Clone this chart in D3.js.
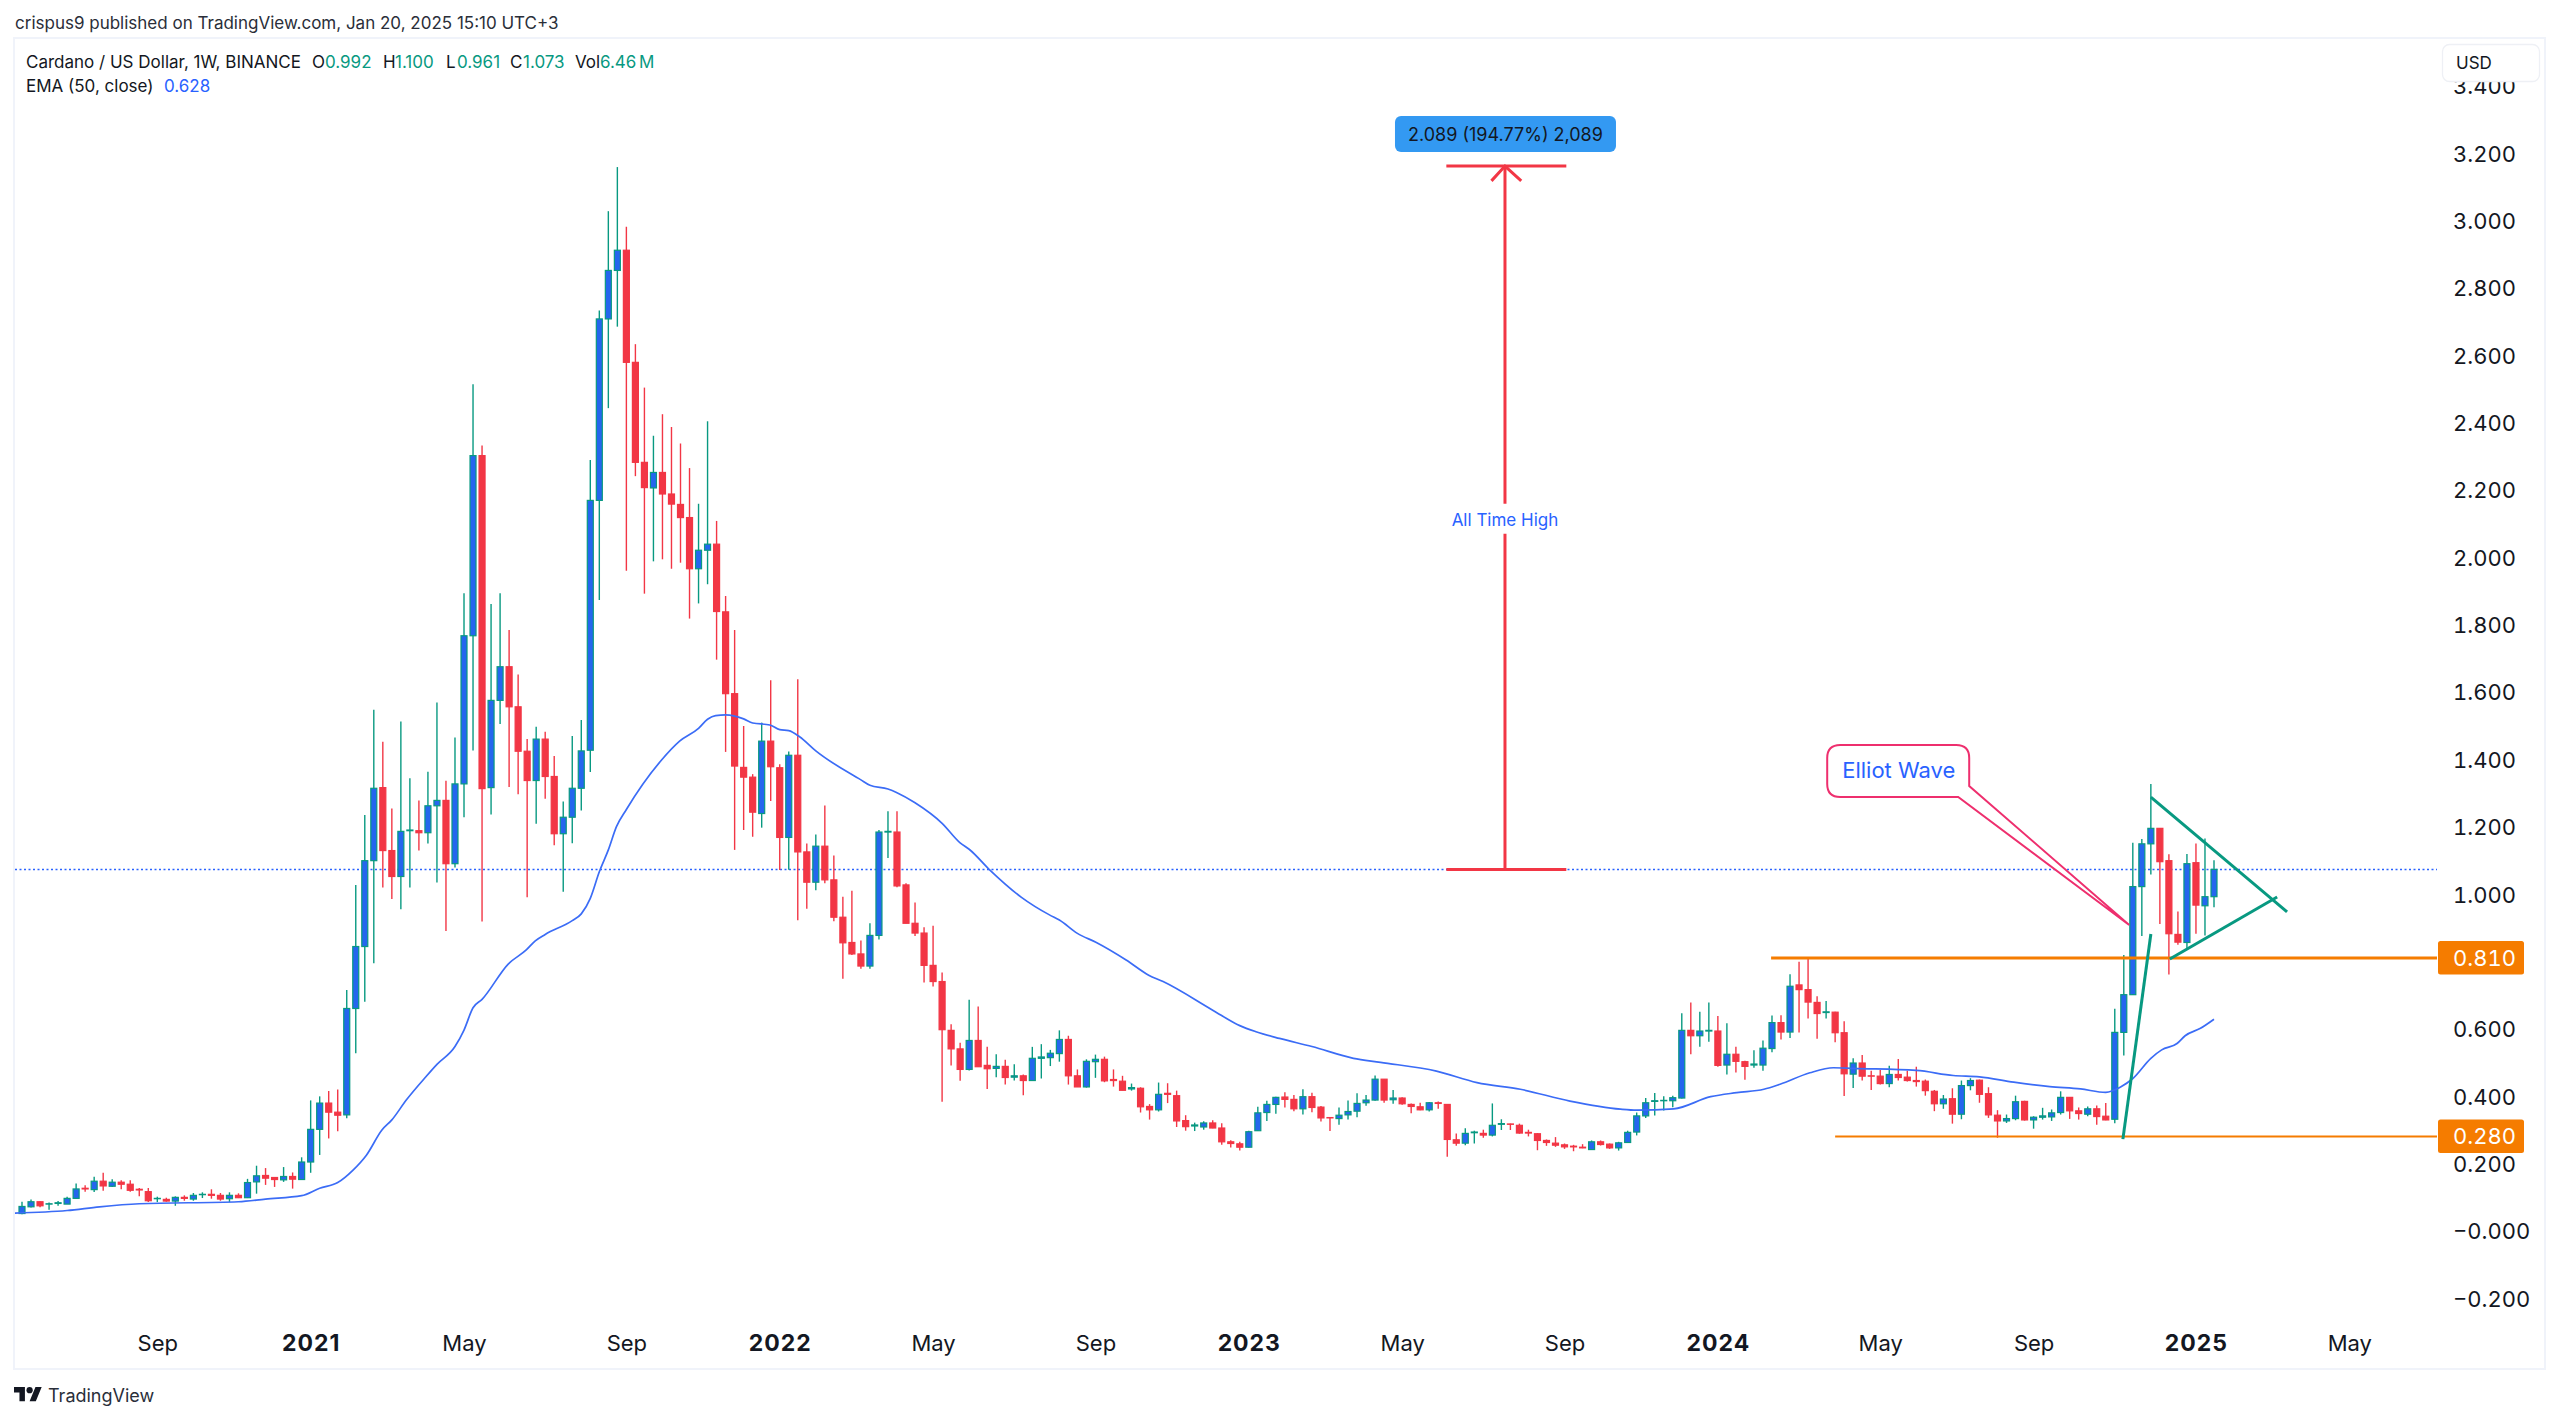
<!DOCTYPE html>
<html>
<head>
<meta charset="utf-8">
<style>
html,body{margin:0;padding:0;background:#fff;}
svg{display:block;font-family:Inter,"Noto Sans",sans-serif;}
.tnum{font-variant-numeric:tabular-nums;font-feature-settings:"tnum" 1;}
</style>
<script src="https://cdn.jsdelivr.net/npm/d3@7/dist/d3.min.js"></script>
</head>
<body>
<svg id="chart" width="2560" height="1420"></svg>
<script>
// ---- candles: weekly bars, index 0 = week of 2020-05-25 ----
const opens = [
.051,.071,.086,.079,.081,.079,.096,.126,.122,.147,
.132,.144,.138,.123,.116,.095,.093,.088,.099,.094,
.107,.108,.105,.095,.105,.098,.145,.164,.158,.151,
.161,.152,.204,.301,.379,.352,.344,.660,.844,1.099,
1.316,1.129,1.052,1.188,1.188,1.182,1.262,1.278,1.090,1.327,
1.767,2.302,1.316,1.575,1.675,1.556,1.424,1.337,1.460,1.349,
1.179,1.228,1.314,1.427,2.169,2.708,2.852,2.912,2.579,2.282,
2.206,2.252,2.188,2.157,2.118,1.966,2.021,2.039,1.838,1.595,
1.376,1.347,1.239,1.454,1.375,1.168,1.412,1.125,1.035,1.142,
1.042,.931,.856,.822,.786,.877,1.184,1.184,1.027,.913,
.884,.788,.740,.595,.540,.479,.565,.491,.482,.488,
.456,.460,.446,.512,.514,.526,.568,.460,.427,.502,
.509,.449,.444,.421,.423,.369,.359,.408,.401,.327,
.311,.308,.320,.305,.264,.258,.248,.297,.351,.375,
.397,.390,.362,.398,.367,.336,.333,.344,.355,.380,
.388,.450,.389,.394,.375,.368,.359,.380,.375,.270,
.260,.291,.289,.284,.316,.317,.313,.292,.288,.268,
.260,.255,.251,.248,.241,.264,.257,.246,.262,.293,
.341,.384,.386,.386,.394,.595,.579,.593,.593,.492,
.524,.502,.492,.492,.541,.618,.590,.730,.716,.678,
.648,.649,.588,.465,.498,.460,.459,.437,.464,.456,
.446,.444,.414,.377,.392,.346,.431,.447,.407,.343,
.326,.333,.384,.329,.337,.338,.351,.396,.356,.346,
.362,.340,.331,.589,.701,1.022,1.149,1.195,1.099,.880,
.856,1.093,.965,.992];
const highs = [
.086,.093,.087,.084,.088,.101,.140,.135,.160,.172,
.153,.150,.150,.127,.127,.101,.098,.102,.105,.112,
.114,.123,.112,.114,.111,.154,.193,.186,.159,.189,
.173,.218,.387,.399,.415,.419,.715,1.027,1.235,1.547,
1.452,1.254,1.512,1.344,1.278,1.363,1.569,1.336,1.465,1.893,
2.514,2.332,1.861,1.893,1.784,1.652,1.460,1.497,1.482,1.410,
1.275,1.469,1.517,2.289,2.733,3.028,3.159,2.982,2.633,2.504,
2.361,2.425,2.387,2.338,2.265,2.159,2.404,2.108,1.885,1.784,
1.499,1.356,1.509,1.635,1.385,1.423,1.638,1.150,1.177,1.263,
1.114,.992,1.010,.862,.913,1.190,1.246,1.246,1.032,.975,
.901,.906,.767,.613,.558,.686,.666,.546,.524,.508,
.494,.464,.546,.554,.537,.595,.579,.479,.509,.523,
.517,.479,.460,.437,.426,.376,.440,.438,.416,.343,
.321,.325,.328,.319,.269,.264,.297,.368,.386,.398,
.411,.403,.420,.410,.370,.337,.366,.387,.408,.403,
.461,.450,.418,.396,.378,.380,.382,.384,.376,.289,
.304,.297,.300,.378,.331,.318,.318,.300,.290,.271,
.278,.259,.255,.257,.268,.268,.259,.264,.297,.351,
.394,.409,.399,.401,.646,.678,.650,.678,.638,.616,
.546,.505,.536,.565,.639,.640,.762,.799,.809,.696,
.682,.650,.622,.512,.522,.475,.477,.490,.510,.475,
.487,.449,.418,.403,.423,.446,.453,.449,.426,.358,
.345,.401,.386,.340,.365,.360,.414,.397,.366,.369,
.372,.379,.659,.819,1.152,1.163,1.327,1.195,1.118,.948,
1.119,1.150,1.165,1.100];
const lows = [
.049,.069,.070,.062,.074,.079,.094,.116,.115,.119,
.130,.123,.116,.102,.085,.085,.086,.074,.089,.089,
.097,.095,.089,.085,.097,.097,.110,.136,.130,.145,
.125,.151,.172,.225,.274,.295,.334,.527,.680,.794,
1.019,.985,.955,1.019,1.129,1.150,1.034,.890,1.079,1.228,
1.426,.918,1.236,1.505,1.318,1.296,.990,1.209,1.283,1.145,
1.007,1.151,1.248,1.362,1.873,2.443,2.685,1.960,2.241,1.892,
1.988,1.994,1.966,1.984,1.818,1.863,1.920,1.696,1.422,1.131,
1.190,1.170,1.197,1.276,1.071,1.072,.922,.956,1.011,1.032,
.919,.748,.819,.778,.778,.865,1.107,1.020,.913,.875,
.737,.725,.383,.491,.445,.476,.487,.421,.456,.434,
.446,.402,.446,.452,.489,.502,.434,.427,.425,.454,
.441,.428,.417,.416,.351,.330,.354,.379,.308,.297,
.296,.300,.304,.255,.247,.238,.247,.296,.326,.347,
.366,.355,.345,.352,.324,.296,.315,.330,.337,.371,
.386,.380,.377,.374,.349,.358,.354,.362,.220,.252,
.254,.259,.276,.280,.299,.299,.288,.280,.239,.252,
.249,.243,.236,.245,.241,.253,.243,.238,.262,.283,
.335,.342,.357,.367,.393,.524,.546,.561,.487,.464,
.470,.448,.484,.475,.530,.568,.572,.589,.630,.570,
.630,.560,.400,.424,.446,.418,.434,.426,.446,.443,
.428,.401,.355,.362,.318,.331,.417,.380,.335,.276,
.320,.328,.327,.303,.330,.326,.345,.332,.330,.340,
.315,.328,.319,.520,.701,.875,1.058,.911,.761,.849,
.839,.882,.877,.961];
const closes = [
.072,.086,.074,.080,.083,.096,.124,.124,.147,.133,
.144,.138,.120,.121,.089,.096,.088,.099,.096,.105,
.108,.105,.094,.105,.098,.143,.163,.156,.152,.161,
.153,.204,.301,.379,.352,.343,.660,.844,1.099,1.314,
1.129,1.052,1.186,1.190,1.182,1.262,1.278,1.090,1.327,1.767,
2.302,1.313,1.575,1.675,1.556,1.424,1.337,1.460,1.349,1.179,
1.228,1.314,1.425,2.169,2.708,2.852,2.912,2.579,2.282,2.207,
2.252,2.188,2.158,2.118,1.966,2.021,2.039,1.839,1.595,1.380,
1.347,1.243,1.454,1.378,1.168,1.412,1.125,1.035,1.142,1.042,
.931,.855,.822,.786,.877,1.184,1.186,1.024,.913,.884,
.788,.740,.597,.540,.479,.565,.487,.481,.488,.455,
.460,.446,.512,.516,.527,.568,.460,.427,.503,.509,
.445,.446,.417,.425,.368,.359,.405,.405,.326,.309,
.314,.320,.305,.264,.259,.248,.294,.350,.375,.396,
.390,.362,.398,.366,.335,.335,.343,.354,.378,.388,
.450,.388,.394,.377,.369,.359,.380,.378,.271,.260,
.289,.293,.284,.313,.318,.316,.290,.290,.268,.262,
.254,.249,.249,.246,.264,.256,.246,.261,.292,.341,
.380,.386,.387,.395,.595,.579,.593,.595,.491,.524,
.503,.488,.495,.542,.618,.590,.726,.716,.679,.645,
.650,.588,.466,.498,.459,.459,.437,.464,.455,.446,
.443,.416,.377,.391,.346,.431,.446,.405,.344,.326,
.333,.383,.329,.337,.341,.350,.396,.356,.348,.362,
.339,.329,.589,.701,1.022,1.149,1.195,1.096,.882,.857,
1.090,.967,.992,1.073];

// ---- EMA(50): weeks and values ----
const emaWeeks = [-1,5,8.6,13,24,27,31,33,35,36.7,38.2,39.9,41,42.6,44.8,46,48,49,50,51,53.9,55.9,56.9,58,61,62,63,64,65,65.9,67,70.9,72.9,75,76,76.9,78,80,81,82.9,84,85,86.2,88,93,94,96,97,99,102,104,105,107.3,110.8,113.9,115,117,119.1,122.4,124.9,126.5,132,135,136.8,139.4,143,147.6,150.6,156.8,161.3,166.1,171.6,177.2,179,183.1,187.2,190.1,193.1,194.9,198.2,200.8,203,210,214.1,217,220.8,224.8,228.2,231,232.6,234,236,237.2,238.9,239.8,241.5,243];
const emaValues = [.052,.060,.071,.080,.086,.094,.104,.126,.143,.180,.225,.299,.329,.388,.458,.494,.547,.596,.662,.687,.792,.834,.861,.880,.921,.941,.987,1.066,1.131,1.200,1.251,1.398,1.454,1.492,1.519,1.530,1.532,1.520,1.508,1.502,1.488,1.485,1.467,1.425,1.339,1.323,1.312,1.301,1.271,1.210,1.152,1.133,1.071,.990,.938,.923,.883,.856,.804,.759,.740,.655,.609,.591,.571,.547,.512,.500,.474,.440,.420,.385,.361,.358,.362,.398,.410,.420,.435,.469,.484,.482,.476,.461,.457,.441,.428,.421,.411,.426,.452,.512,.537,.556,.579,.601,.628];

// ---- axes ----
const priceTicks = [3.4,3.2,3.0,2.8,2.6,2.4,2.2,2.0,1.8,1.6,1.4,1.2,1.0,0.6,0.4,0.2,0,-0.2];
const tickWeeks = [15,32,49,67,84,101,119,136,153,171,188,206,223,241,258];
const tickLabels = ["Sep","2021","May","Sep","2022","May","Sep","2023","May","Sep","2024","May","Sep","2025","May"];

// ---- drawings (week index, price) ----
const lastClose = 1.073;
const levelPrices = [0.810, 0.280];
const levelStartWeeks = [193.9, 201];
const levelWidths = [3, 2];
const trendFromWeek = [232.9, 236, 238.1];
const trendFromPrice = [0.272, 1.288, 0.807];
const trendToWeek = [236, 251.1, 250];
const trendToPrice = [0.881, 0.947, 0.991];
const measureWeek = 164.4, measureTop = 3.162, measureBottom = 1.073;
const measureCapWeeks = [157.9, 171.2];
const arrowWeeks = [162.9, 166.2], arrowPrice = 3.118;
const calloutTipWeek = 233.6, calloutTipPrice = 0.908;

const BLUE="#2962ff", GREEN="#089981", RED="#f23645", ORANGE="#f57c00", PINK="#ee2f6e", INK="#131722", FILLUP="#2566ee";

const x = d3.scaleLinear().domain([0,243]).range([22,2214]);
const y = d3.scaleLinear().domain([1,0]).range([894,1230.7]);
const plotRight = 2437, plotLeft = 15, plotTop = 39, plotBottom = 1368;

const svg = d3.select("#chart");
svg.append("rect").attr("width",2560).attr("height",1420).attr("fill","#fff");
svg.append("defs").append("clipPath").attr("id","plot").append("rect")
  .attr("x",plotLeft).attr("y",plotTop).attr("width",plotRight-plotLeft).attr("height",plotBottom-plotTop);

// frame
svg.append("rect").attr("x",14).attr("y",38).attr("width",2531).attr("height",1331)
  .attr("fill","none").attr("stroke","#f0f3fa").attr("stroke-width",2);

// header
svg.append("text").attr("x",15).attr("y",29).attr("font-size",17).attr("fill","#2a2e39")
  .text("crispus9 published on TradingView.com, Jan 20, 2025 15:10 UTC+3");

const plot = svg.append("g").attr("clip-path","url(#plot)");

// last close dotted line
plot.append("line").attr("x1",plotLeft).attr("x2",plotRight).attr("y1",y(lastClose)).attr("y2",y(lastClose))
  .attr("stroke",BLUE).attr("stroke-width",1.5).attr("stroke-dasharray","2 2.5");

// candles
const candles = opens.map((o,i)=>({i,o,h:highs[i],l:lows[i],c:closes[i]}));
const cg = plot.append("g").selectAll("g").data(candles).join("g");
cg.append("line").attr("x1",d=>x(d.i)).attr("x2",d=>x(d.i)).attr("y1",d=>y(d.h)).attr("y2",d=>y(d.l))
  .attr("stroke",d=>d.c>=d.o?GREEN:RED).attr("stroke-width",1.4);
cg.append("rect").attr("x",d=>x(d.i)-3).attr("width",6)
  .attr("y",d=>y(Math.max(d.o,d.c))).attr("height",d=>Math.abs(y(d.o)-y(d.c)))
  .attr("fill",d=>d.c>=d.o?FILLUP:RED).attr("stroke",d=>d.c>=d.o?GREEN:RED).attr("stroke-width",1.2);

// EMA
plot.append("path").datum(emaWeeks.map((w,i)=>[w,emaValues[i]]))
  .attr("fill","none").attr("stroke","#3b6cf6").attr("stroke-width",1.7)
  .attr("d",d3.line().x(d=>x(d[0])).y(d=>y(d[1])).curve(d3.curveMonotoneX));

// horizontal levels
levelPrices.forEach((p,i)=>{
  plot.append("line").attr("x1",x(levelStartWeeks[i])).attr("x2",plotRight).attr("y1",y(p)).attr("y2",y(p))
    .attr("stroke",ORANGE).attr("stroke-width",levelWidths[i]);
});

// green trend lines
trendFromWeek.forEach((w,i)=>{
  plot.append("line").attr("x1",x(w)).attr("y1",y(trendFromPrice[i])).attr("x2",x(trendToWeek[i])).attr("y2",y(trendToPrice[i]))
    .attr("stroke",GREEN).attr("stroke-width",3);
});

// measure arrow
const mx = x(measureWeek);
const mg = svg.append("g").attr("stroke",RED).attr("stroke-width",3).attr("fill","none");
mg.append("line").attr("x1",mx).attr("x2",mx).attr("y1",y(measureTop)).attr("y2",y(measureBottom));
[measureTop,measureBottom].forEach(p=>mg.append("line").attr("x1",x(measureCapWeeks[0])).attr("x2",x(measureCapWeeks[1])).attr("y1",y(p)).attr("y2",y(p)));
mg.append("path").attr("d",d3.line()([[x(arrowWeeks[0]),y(arrowPrice)],[mx,y(measureTop)],[x(arrowWeeks[1]),y(arrowPrice)]]));
// mid label
const midY = y((measureTop+measureBottom)/2);
svg.append("rect").attr("x",mx-56).attr("y",midY-14).attr("width",112).attr("height",30).attr("fill","#fff");
svg.append("text").attr("x",mx).attr("y",midY+8).attr("text-anchor","middle").attr("font-size",17).attr("fill",BLUE).text("All Time High");
// top badge
svg.append("rect").attr("x",mx-110).attr("y",y(measureTop)-50).attr("width",221).attr("height",36).attr("rx",6)
  .attr("fill","#3399f2");
svg.append("text").attr("x",mx+0.5).attr("y",y(measureTop)-25.5).attr("text-anchor","middle").attr("font-size",18).attr("fill",INK)
  .text("2.089 (194.77%) 2,089");

// callout
const tipX = x(calloutTipWeek), tipY = y(calloutTipPrice);
const bx0 = tipX-302, bx1 = tipX-160, by0 = tipY-180, by1 = tipY-128, r = 13;
svg.append("path").attr("fill","#fff").attr("stroke",PINK).attr("stroke-width",2)
  .attr("d",`M${bx0+r},${by0} H${bx1-r} Q${bx1},${by0} ${bx1},${by0+r} V${by1-11} L${tipX},${tipY} L${bx1-11},${by1} H${bx0+r} Q${bx0},${by1} ${bx0},${by1-r} V${by0+r} Q${bx0},${by0} ${bx0+r},${by0} Z`);
svg.append("text").attr("x",bx0+15).attr("y",by0+33).attr("font-size",22).attr("fill",BLUE).text("Elliot Wave");

// right axis
const yAxis = d3.axisRight(y).tickValues(priceTicks).tickSize(0).tickPadding(0)
  .tickFormat(v=> v<=0 ? "\u2212"+Math.abs(v).toFixed(3) : v.toFixed(3));
const ya = svg.append("g").attr("transform","translate(2453,0)").call(yAxis);
ya.select(".domain").remove();
ya.selectAll("text").attr("font-size",22).attr("font-family","Inter").attr("fill",INK).attr("dy","8px").attr("class","tnum");

// bottom axis
const xAxis = d3.axisBottom(x).tickValues(tickWeeks).tickSize(0).tickPadding(0)
  .tickFormat((d,i)=>tickLabels[i]);
const xa = svg.append("g").attr("transform","translate(0,1351)").call(xAxis);
xa.select(".domain").remove();
xa.selectAll("text").attr("dy",0).attr("y",0).attr("font-size",22).attr("font-family","Inter").attr("fill",INK);
xa.selectAll("text").filter((d,i)=>/^\d/.test(tickLabels[i]))
  .attr("font-weight",700).attr("font-size",23).attr("letter-spacing",1);

// level tags
levelPrices.forEach(p=>{
  svg.append("rect").attr("x",2438).attr("y",y(p)-17).attr("width",86).attr("height",33.5).attr("rx",2.5).attr("fill",ORANGE);
  svg.append("text").attr("x",2453).attr("y",y(p)+8).attr("font-size",22).attr("class","tnum").attr("fill","#fff").text(p.toFixed(3));
});

// USD button
svg.append("rect").attr("x",2442.5).attr("y",44.5).attr("width",97).attr("height",37).attr("rx",7).attr("fill","#fff").attr("stroke","#eef0f5").attr("stroke-width",1.3);
svg.append("text").attr("x",2456).attr("y",69).attr("font-size",17).attr("fill",INK).text("USD");

// legend
const leg = svg.append("g").attr("font-size",17);
[["Cardano / US Dollar, 1W, BINANCE",26,INK],["O",312,INK],["0.992",325,GREEN],["H",383,INK],["1.100",395,GREEN],["L",446,INK],["0.961",457,GREEN],["C",510,INK],["1.073",523,GREEN],["Vol",575,INK],["6.46",600,GREEN],["M",639,GREEN]]
  .forEach(t=>leg.append("text").attr("x",t[1]).attr("y",68).attr("fill",t[2]).text(t[0]));
leg.append("text").attr("x",26).attr("y",92).attr("fill",INK).text("EMA (50, close)");
leg.append("text").attr("x",164).attr("y",92).attr("fill",BLUE).text("0.628");

// footer logo
const logo = svg.append("g").attr("transform","translate(14,1384) scale(0.78)").attr("fill",INK);
logo.append("path").attr("d","M14 22H7V11H0V4h14v18zM28 22h-8l7.5-18h8L28 22z");
logo.append("circle").attr("cx",20).attr("cy",8).attr("r",4);
svg.append("text").attr("x",48).attr("y",1402).attr("font-size",18).attr("fill","#2a2e39").text("TradingView");
</script>
</body>
</html>
